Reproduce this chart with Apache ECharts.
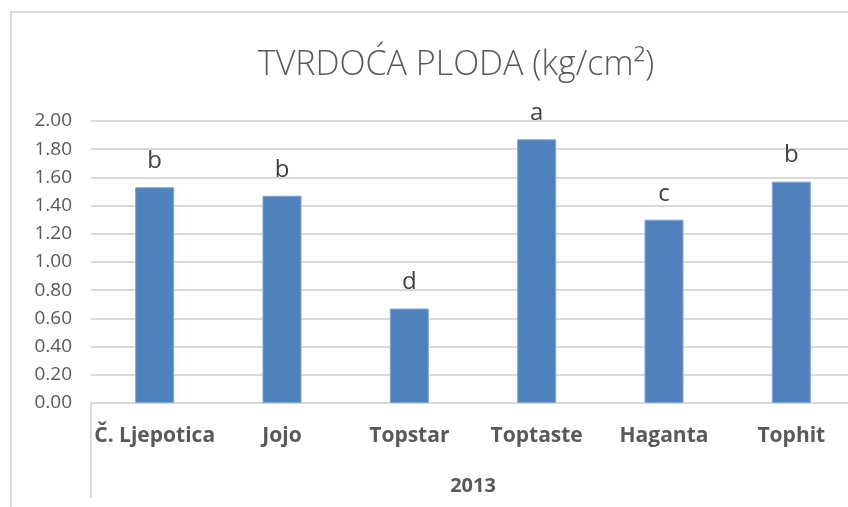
<!DOCTYPE html>
<html>
<head>
<meta charset="utf-8">
<script src="https://cdn.jsdelivr.net/npm/echarts@6/dist/echarts.min.js"></script>
<style>
  html, body { margin: 0; padding: 0; background: #fff; }
  #chart { width: 848px; height: 507px; }
</style>
</head>
<body>
<div id="chart"></div>
<script>
var categories = ['Č. Ljepotica', 'Jojo', 'Topstar', 'Toptaste', 'Haganta', 'Tophit'];
var values = [1.53, 1.47, 0.67, 1.87, 1.30, 1.57];
var letters = ['b', 'b', 'd', 'a', 'c', 'b'];
var groupLabel = ['2013'];

var myChart = echarts.init(document.getElementById('chart'));
var option = {
    animation: false,
    textStyle: { fontFamily: 'Open Sans, Liberation Sans, sans-serif' },
    title: {
        text: 'TVRDOĆA PLODA (kg/cm²)',
        left: 451,
        textAlign: 'center',
        top: 43,
        textStyle: {
            fontSize: 34,
            fontWeight: 300,
            color: '#595959',
            fontFamily: 'Open Sans, sans-serif'
        }
    },
    // okvir grafikona
    graphic: [{
        type: 'rect',
        shape: { x: 11, y: 12, width: 900, height: 600 },
        style: { fill: 'none', stroke: '#d9d9d9', lineWidth: 2 },
        silent: true
    }],
    grid: {
        left: 91,
        top: 121,
        width: 764,
        height: 282,
        containLabel: false,
        outerBoundsMode: 'none'
    },
    xAxis: [{
        type: 'category',
        data: categories,
        axisLine: { lineStyle: { color: '#d9d9d9', width: 2 } },
        axisTick: { show: false },
        axisLabel: {
            interval: 0,
            margin: 23,
            fontSize: 21,
            fontWeight: 'bold',
            color: '#595959'
        }
    }, {
        type: 'category',
        position: 'bottom',
        data: groupLabel,
        axisLine: { show: false },
        axisTick: {
            show: true,
            length: 95,
            lineStyle: { color: '#d9d9d9', width: 2 }
        },
        axisLabel: {
            margin: 73,
            fontSize: 20,
            fontWeight: 'bold',
            color: '#595959'
        }
    }],
    yAxis: {
        type: 'value',
        min: 0,
        max: 2,
        interval: 0.2,
        axisLine: { show: false },
        axisTick: { show: false },
        splitLine: { lineStyle: { color: '#d9d9d9', width: 2 } },
        axisLabel: {
            margin: 19,
            fontSize: 19,
            color: '#595959',
            formatter: function (v) { return v.toFixed(2); }
        }
    },
    series: [{
        type: 'bar',
        xAxisIndex: 0,
        data: values,
        barWidth: 39,
        itemStyle: {
            color: '#4f81bd',
            borderColor: '#7ea6d6',
            borderWidth: 1
        },
        label: {
            show: true,
            position: 'top',
            distance: 14,
            fontSize: 24,
            color: '#404040',
            formatter: function (p) { return letters[p.dataIndex]; }
        }
    }]
};
myChart.setOption(option);
</script>
</body>
</html>
